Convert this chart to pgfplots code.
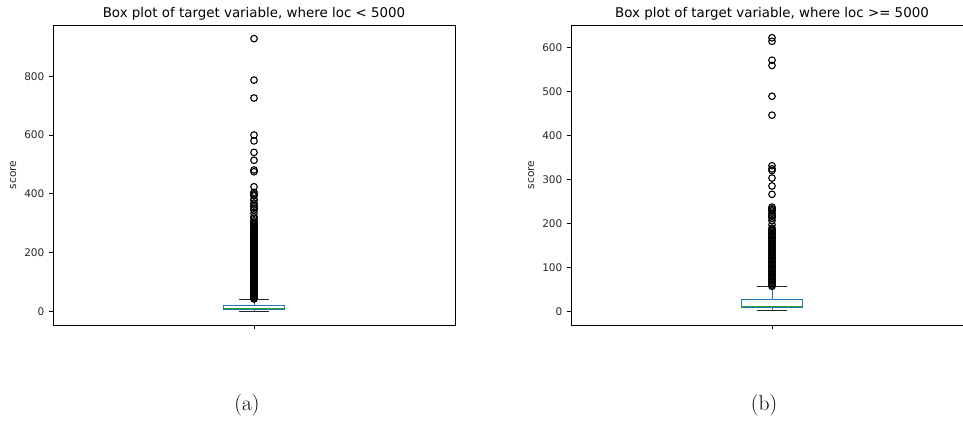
\documentclass[border=0pt]{standalone}
\usepackage{pgfplots}
\pgfplotsset{compat=1.18}
\usepgfplotslibrary{statistics}
\usepackage{fontspec}
\newfontfamily\dejavu{DejaVu Sans}
\definecolor{c0}{RGB}{31,119,180}
\definecolor{c2}{RGB}{44,160,44}
\pgfplotsset{
  boxplot/draw/whisker/.code 2 args={%
    \draw[draw=c0, line width=1pt] (boxplot box cs:#1,0.5) -- (boxplot box cs:#2,0.5);
    \draw[black!85, line width=1.1pt] (boxplot whisker cs:#2,0) -- (boxplot whisker cs:#2,1);
  },
  myaxis/.style={
    scale only axis, width=402pt, height=300pt,
    xmin=0.5, xmax=1.5,
    xtick={1}, xticklabels={},
    tick pos=left, tick align=outside,
    major tick length=4.5pt,
    every tick/.style={black, line width=0.8pt},
    axis line style={line width=0.8pt, black},
    tick label style={font=\dejavu\fontsize{10.5}{12}\selectfont, text=black!85},
    /pgf/number format/assume math mode=true,
    yticklabel style={anchor=east, inner sep=0pt, xshift=-4pt},
    every axis title shift=0pt,
    title style={font=\dejavu\fontsize{13.4}{16}\selectfont, at={(0.5,1)}, anchor=base, yshift=7pt},
    ylabel style={font=\dejavu\fontsize{10.6}{12}\selectfont, text=black!85, at={(axis description cs:-0.099,0.5)}, anchor=center},
    ylabel={score},
    boxplot/draw direction=y,
    boxplot/box extend=0.15,
    boxplot/whisker extend=0.075,
    boxplot/every median/.style={draw=c2, line width=1.1pt},
    boxplot/every box/.style={draw=c0, line width=1pt},
  }
}
\begin{document}
\begin{tikzpicture}
\useasboundingbox (0,0) rectangle (963pt,422pt);
\clip (0,0) rectangle (963pt,422pt);
\begin{axis}[myaxis, at={(53pt,97pt)}, anchor=south west,
  ymin=-46.4, ymax=974.4, ytick={0,200,400,600,800},
  title={Box plot of target variable, where loc < 5000}]
\addplot[draw=c0, line width=1pt, mark=o, mark size=3.3pt,
  mark options={draw=black, solid, line width=1.1pt, fill=none},
  boxplot prepared={draw position=1, lower whisker=1, lower quartile=6,
    median=11, upper quartile=20, upper whisker=40}]
  table[row sep=\\, y index=0] {
  y\\ 42\\ 46\\ 50\\ 54\\ 58\\ 62\\ 66\\ 70\\ 74\\ 78\\ 82\\ 86\\ 90\\ 94\\ 98\\
  102\\ 106\\ 110\\ 114\\ 118\\ 122\\ 126\\ 130\\ 134\\ 138\\ 142\\ 146\\ 150\\
  154\\ 158\\ 162\\ 166\\ 170\\ 174\\ 178\\ 182\\ 186\\ 190\\ 194\\ 198\\ 202\\
  206\\ 210\\ 214\\ 218\\ 222\\ 226\\ 230\\ 234\\ 238\\ 242\\ 246\\ 250\\ 254\\
  258\\ 262\\ 266\\ 270\\ 274\\ 278\\ 282\\ 286\\ 290\\ 294\\ 298\\
  303\\ 308\\ 317\\ 322\\ 334\\ 345\\ 351\\ 356\\ 362\\ 368\\ 379\\ 381\\ 393\\
  396\\ 400\\ 405\\ 424\\ 475\\ 481\\ 514\\ 541\\ 580\\ 600\\ 726\\ 787\\ 928\\
  };
\end{axis}
\begin{axis}[myaxis, at={(571pt,97pt)}, anchor=south west,
  ymin=-31, ymax=651, ytick={0,100,200,300,400,500,600},
  title={Box plot of target variable, where loc >= 5000}]
\addplot[draw=c0, line width=1pt, mark=o, mark size=3.3pt,
  mark options={draw=black, solid, line width=1.1pt, fill=none},
  boxplot prepared={draw position=1, lower whisker=1, lower quartile=8,
    median=12, upper quartile=27, upper whisker=56}]
  table[row sep=\\, y index=0] {
  y\\ 57\\ 60\\ 63\\ 66\\ 69\\ 72\\ 75\\ 78\\ 81\\ 84\\ 87\\ 90\\ 93\\ 96\\ 99\\
  102\\ 105\\ 108\\ 111\\ 114\\ 117\\ 120\\ 123\\ 126\\ 129\\ 132\\ 135\\ 138\\
  141\\ 144\\ 147\\ 150\\ 153\\ 156\\ 159\\ 162\\ 165\\ 168\\ 171\\ 174\\ 177\\
  180\\ 183\\ 186\\
  189\\ 197\\ 206\\ 212\\ 216\\ 219\\ 223\\ 228\\ 231\\ 233\\ 237\\ 266\\ 285\\
  303\\ 320\\ 324\\ 331\\ 446\\ 489\\ 559\\ 571\\ 614\\ 622\\
  };
\end{axis}
\node[anchor=base, font=\fontsize{21.5}{26}\selectfont] at (247pt,11pt) {(a)};
\node[anchor=base, font=\fontsize{21.5}{26}\selectfont] at (764pt,11pt) {(b)};
\end{tikzpicture}
\end{document}
